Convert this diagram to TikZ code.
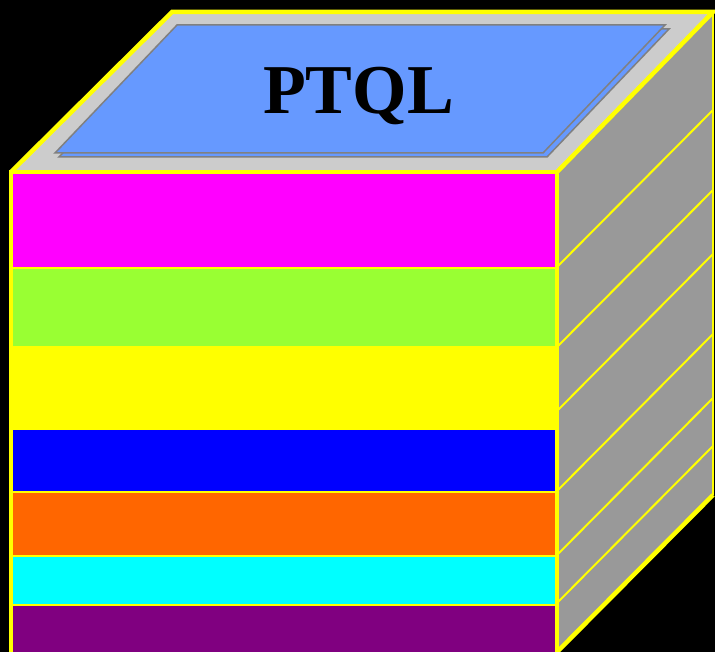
\documentclass[tikz,border=0pt]{standalone}
\usepackage{fontspec}
\setmainfont{Liberation Serif}
\definecolor{rgray}{HTML}{999999}
\definecolor{tgray}{HTML}{CCCCCC}
\definecolor{panelblue}{HTML}{6699FF}
\definecolor{panelline}{HTML}{808080}
\definecolor{cmag}{HTML}{FF00FF}
\definecolor{cgreen}{HTML}{99FF33}
\definecolor{cyel}{HTML}{FFFF00}
\definecolor{cblue}{HTML}{0000FF}
\definecolor{corange}{HTML}{FF6600}
\definecolor{ccyan}{HTML}{00FFFF}
\definecolor{cpurple}{HTML}{800080}
\tikzset{
  edgethick/.style={draw=cyel,line width=4.5pt,line join=miter},
  edgethin/.style={draw=cyel,line width=2pt},
  panel/.style={fill=panelblue,draw=panelline,line width=1.5pt,line join=miter},
}
\begin{document}
\begin{tikzpicture}[x=1pt,y=-1pt]
\fill[black] (0,0) rectangle (715,652);
\useasboundingbox (0,0) rectangle (715,652);
% right face
\fill[rgray] (557,172) -- (713,13) -- (713,495) -- (557,652) -- cycle;
\foreach \yy in {267,347,411,491,555,603}{
  \draw[edgethin] (557,\yy) -- (713,\yy-157);
}
\draw[edgethin] (713,13) -- (713,495);
\draw[edgethick] (713,495) -- (557,652);
% top face
\fill[tgray] (11,172) -- (172,12) -- (713,12) -- (557,172) -- cycle;
\draw[edgethick] (11,172) -- (172,12) -- (713,12) -- (557,172);
% panel with shadow
\draw[panel] (59,157) -- (181,29) -- (669,29) -- (547,157) -- cycle;
\draw[panel] (55,153) -- (177,25) -- (665,25) -- (543,153) -- cycle;
\node[font=\fontsize{70}{70}\selectfont\bfseries,anchor=base,inner sep=0pt] (title) at (358.5,114) {PTQL};
% front bands
\fill[cmag] (11,172) rectangle (557,268);
\fill[cgreen] (11,268) rectangle (557,347);
\fill[cyel] (11,347) rectangle (557,430);
\fill[cblue] (11,430) rectangle (557,492);
\fill[corange] (11,492) rectangle (557,556);
\fill[ccyan] (11,556) rectangle (557,605);
\fill[cpurple] (11,605) rectangle (557,652);
\foreach \yy in {268,347,492,556,605}{
  \draw[draw=cyel,line width=2pt] (11,\yy) -- (557,\yy);
}
\draw[draw=cyel,line width=4pt,line join=miter] (11,654) -- (11,172) -- (557,172) -- (557,654);
\end{tikzpicture}
\end{document}
